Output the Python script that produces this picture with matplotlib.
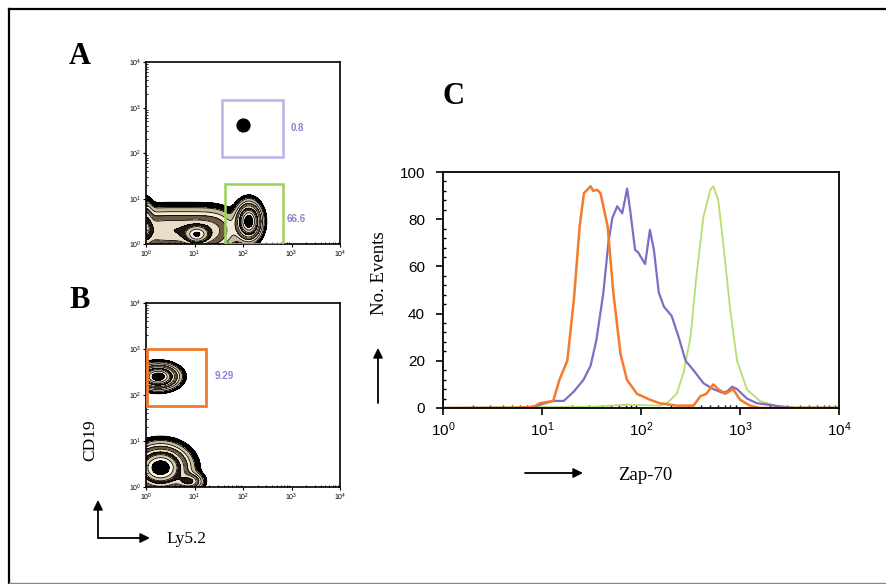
import numpy as np
import matplotlib
matplotlib.use("Agg")
import matplotlib.pyplot as plt
from matplotlib.patches import Rectangle, FancyArrowPatch
from matplotlib.lines import Line2D
from matplotlib.ticker import LogLocator, MultipleLocator, NullFormatter

plt.rcParams['font.family'] = ['Liberation Sans', 'DejaVu Sans']
plt.rcParams['mathtext.fontset'] = 'custom'
plt.rcParams['mathtext.rm'] = 'Liberation Sans'
plt.rcParams['mathtext.it'] = 'Liberation Sans'

# --- panel C: Zap-70 histograms (x in fluorescence units, y = no. events)
orange_x = [1, 5, 8.2, 9.5, 13, 15, 18, 21, 24, 26.5, 31, 33, 36, 39, 46, 52.5, 62, 72,
            91, 123, 155, 229, 339, 398, 457, 537, 603, 708, 851, 1000, 1260, 1585, 10000]
orange_y = [0, 0, 0.5, 2, 3, 12, 20, 46, 77, 91, 94, 92, 92.5, 91, 77, 49, 23, 12,
            6, 3.5, 2, 1, 1, 5, 6, 10, 8, 6, 8, 3.5, 1, 0, 0]

blue_x = [1, 7.9, 8.9, 13, 16.6, 21, 26.3, 31, 35.5, 41.7, 46.8, 51.3, 57.5, 64.6, 72.4,
          77.6, 87.1, 93.3, 110, 123, 135, 151, 170, 204, 240, 282, 339, 427, 537, 661,
          741, 832, 933, 1175, 1479, 1862, 2512, 3467, 10000]
blue_y = [0, 0, 1, 3, 3, 7, 12, 18, 29, 49, 70, 80.5, 85.5, 82.5, 93, 84, 67, 66, 61,
          75.5, 67, 49, 43, 39, 30, 20, 16, 10.5, 8, 6.5, 7, 9, 8, 4, 2, 1.5, 0.7, 0, 0]

green_x = [1, 3.2, 31.6, 72.4, 155, 182, 229, 269, 316, 363, 427, 501, 537, 603, 676,
           794, 933, 1175, 1585, 2344, 3467, 10000]
green_y = [0, 0.3, 0.5, 1.4, 1, 2, 6, 15, 30, 56, 81, 92.5, 94, 88, 70, 42, 20, 7.8,
           3, 0.7, 0.3, 0.2]

# --- panels A/B: populations as (log10 x, log10 y, sx, sy, weight)
popA_cx = [0.0, 0.3, 0.6, 0.9, 1.2, 1.5, 0.0, 1.05, 2.12]
popA_cy = [0.3, 0.3, 0.3, 0.3, 0.3, 0.3, 0.4, 0.2, 0.5]
popA_sx = [0.25, 0.25, 0.25, 0.25, 0.25, 0.25, 0.08, 0.15, 0.14]
popA_sy = [0.27, 0.27, 0.27, 0.27, 0.27, 0.27, 0.3, 0.12, 0.22]
popA_w = [0.2, 0.2, 0.2, 0.2, 0.2, 0.2, 0.3, 0.5, 1.0]

popB_cx = [0.25, 0.3, 0.9]
popB_cy = [2.4, 0.42, 0.12]
popB_sx = [0.22, 0.31, 0.15]
popB_sy = [0.14, 0.26, 0.1]
popB_w = [1.0, 1.0, 0.4]

dotA_x = [100]
dotA_y = [420]

# gates: (x0, x1, y0, y1, value label)
gatesA = [(36, 680, 83, 1480, '0.8'), (43, 680, 1, 21, '66.6')]
gatesA_col = ['#b9b3e6', '#9ad35a']
gatesA_lab = [(980, 355), (810, 3.5)]
gatesB = [(1.05, 17.5, 57, 1000, '9.29')]
gatesB_col = ['#f0792d']
gatesB_lab = [(26, 255)]

levels = [0.03, 0.075, 0.13, 0.2, 0.3, 0.42, 0.55, 0.7, 0.85, 5]
fills = ['#000000', '#cdbb98', '#f2ebdc', '#6e5a40', '#e8ddc7', '#1e1810',
         '#d5c5a4', '#faf6ee', '#000000']


def density(cx, cy, sx, sy, w):
    g = np.linspace(-0.2, 4, 400)
    gx, gy = np.meshgrid(g, g)
    d = np.zeros_like(gx)
    for a, b, s, t, k in zip(cx, cy, sx, sy, w):
        d += k * np.exp(-((gx - a) ** 2 / (2 * s ** 2) + (gy - b) ** 2 / (2 * t ** 2)))
    return 10 ** gx, 10 ** gy, d


def facs_axes(ax):
    ax.set_xscale('log')
    ax.set_yscale('log')
    ax.set_xlim(1, 1e4)
    ax.set_ylim(1, 1e4)
    ax.xaxis.set_major_locator(LogLocator(base=10, numticks=5))
    ax.yaxis.set_major_locator(LogLocator(base=10, numticks=5))
    ax.xaxis.set_minor_locator(LogLocator(base=10, subs=np.arange(2, 10), numticks=10))
    ax.yaxis.set_minor_locator(LogLocator(base=10, subs=np.arange(2, 10), numticks=10))
    ax.xaxis.set_minor_formatter(NullFormatter())
    ax.yaxis.set_minor_formatter(NullFormatter())
    ax.tick_params(which='major', labelsize=5, length=2, width=0.8, pad=1.5)
    ax.tick_params(which='minor', length=1.5, width=0.6, direction='in')
    for s in ax.spines.values():
        s.set_linewidth(1.2)


fig = plt.figure(figsize=(8.86, 5.84), dpi=100)

axA = fig.add_axes([0.1648, 0.582, 0.219, 0.3116])
X, Y, D = density(popA_cx, popA_cy, popA_sx, popA_sy, popA_w)
axA.contourf(X, Y, D, levels=levels, colors=fills)
axA.contour(X, Y, D, levels=levels[:-1], colors='black', linewidths=0.6)
axA.scatter(dotA_x, dotA_y, s=85, color='black', zorder=5)
for (x0, x1, y0, y1, lab), col, (lx, ly) in zip(gatesA, gatesA_col, gatesA_lab):
    axA.add_patch(Rectangle((x0, y0), x1 - x0, y1 - y0, fill=False, edgecolor=col, lw=1.8, zorder=6))
    axA.text(lx, ly, lab, color='#8a80d0', fontsize=7, fontweight='bold', va='center', ha='left')
facs_axes(axA)

axB = fig.add_axes([0.1648, 0.166, 0.219, 0.315])
X, Y, D = density(popB_cx, popB_cy, popB_sx, popB_sy, popB_w)
axB.contourf(X, Y, D, levels=levels, colors=fills)
axB.contour(X, Y, D, levels=levels[:-1], colors='black', linewidths=0.6)
for (x0, x1, y0, y1, lab), col, (lx, ly) in zip(gatesB, gatesB_col, gatesB_lab):
    axB.add_patch(Rectangle((x0, y0), x1 - x0, y1 - y0, fill=False, edgecolor=col, lw=2.0, zorder=6))
    axB.text(lx, ly, lab, color='#8a80d0', fontsize=7, fontweight='bold', va='center', ha='left')
facs_axes(axB)

axC = fig.add_axes([0.5, 0.3014, 0.447, 0.404])
axC.plot(green_x, green_y, color='#b5de6e', lw=1.3)
axC.plot(blue_x, blue_y, color='#7a6fc6', lw=1.6)
axC.plot(orange_x, orange_y, color='#f47a2c', lw=1.8)
axC.set_xscale('log')
axC.set_xlim(1, 1e4)
axC.set_ylim(0, 100)
axC.xaxis.set_major_locator(LogLocator(base=10, numticks=5))
axC.xaxis.set_minor_locator(LogLocator(base=10, subs=np.arange(2, 10), numticks=10))
axC.xaxis.set_minor_formatter(NullFormatter())
axC.yaxis.set_major_locator(MultipleLocator(20))
axC.yaxis.set_minor_locator(MultipleLocator(4))
axC.tick_params(which='major', labelsize=11, length=5, width=1.2)
axC.tick_params(axis='y', which='major', pad=8)
axC.tick_params(axis='x', which='major', pad=4)
axC.tick_params(which='minor', length=2, width=1.0, direction='in')
for s in axC.spines.values():
    s.set_linewidth(1.3)

# panel letters and axis captions
serif = 'Liberation Serif'
fig.text(80, 584 - 57, 'A', transform=None, fontsize=22, fontweight='bold',
         family=serif, ha='center', va='center')
fig.text(80, 584 - 300, 'B', transform=None, fontsize=22, fontweight='bold',
         family=serif, ha='center', va='center')
fig.text(453, 584 - 97, 'C', transform=None, fontsize=22, fontweight='bold',
         family=serif, ha='center', va='center')
fig.text(90, 584 - 440, 'CD19', transform=None, fontsize=12.5, rotation=90,
         family=serif, ha='center', va='center')
fig.text(166, 584 - 539, 'Ly5.2', transform=None, fontsize=12.5,
         family=serif, ha='left', va='center')
fig.text(380, 584 - 273, 'No. Events', transform=None, fontsize=13.5, rotation=90,
         family=serif, ha='center', va='center')
fig.text(618, 584 - 475, 'Zap-70', transform=None, fontsize=13.5,
         family=serif, ha='left', va='center')

arrow = dict(arrowstyle='-|>', lw=1.3, color='black', mutation_scale=14, shrinkA=0, shrinkB=0)
fig.add_artist(FancyArrowPatch((98, 584 - 538), (98, 584 - 500), transform=None, **arrow))
fig.add_artist(FancyArrowPatch((98, 584 - 538), (150, 584 - 538), transform=None, **arrow))
fig.add_artist(FancyArrowPatch((378, 584 - 403), (378, 584 - 348), transform=None, **arrow))
fig.add_artist(FancyArrowPatch((525, 584 - 473), (583, 584 - 473), transform=None, **arrow))

# frame around the figure
fig.add_artist(Line2D([9, 9], [584 - 9, 0], transform=None, color='black', lw=1.6))
fig.add_artist(Line2D([9, 886], [584 - 9, 584 - 9], transform=None, color='black', lw=1.6))
fig.add_artist(Line2D([9, 886], [1.5, 1.5], transform=None, color='#888888', lw=1.0))

fig.savefig('out.png', dpi=100)
